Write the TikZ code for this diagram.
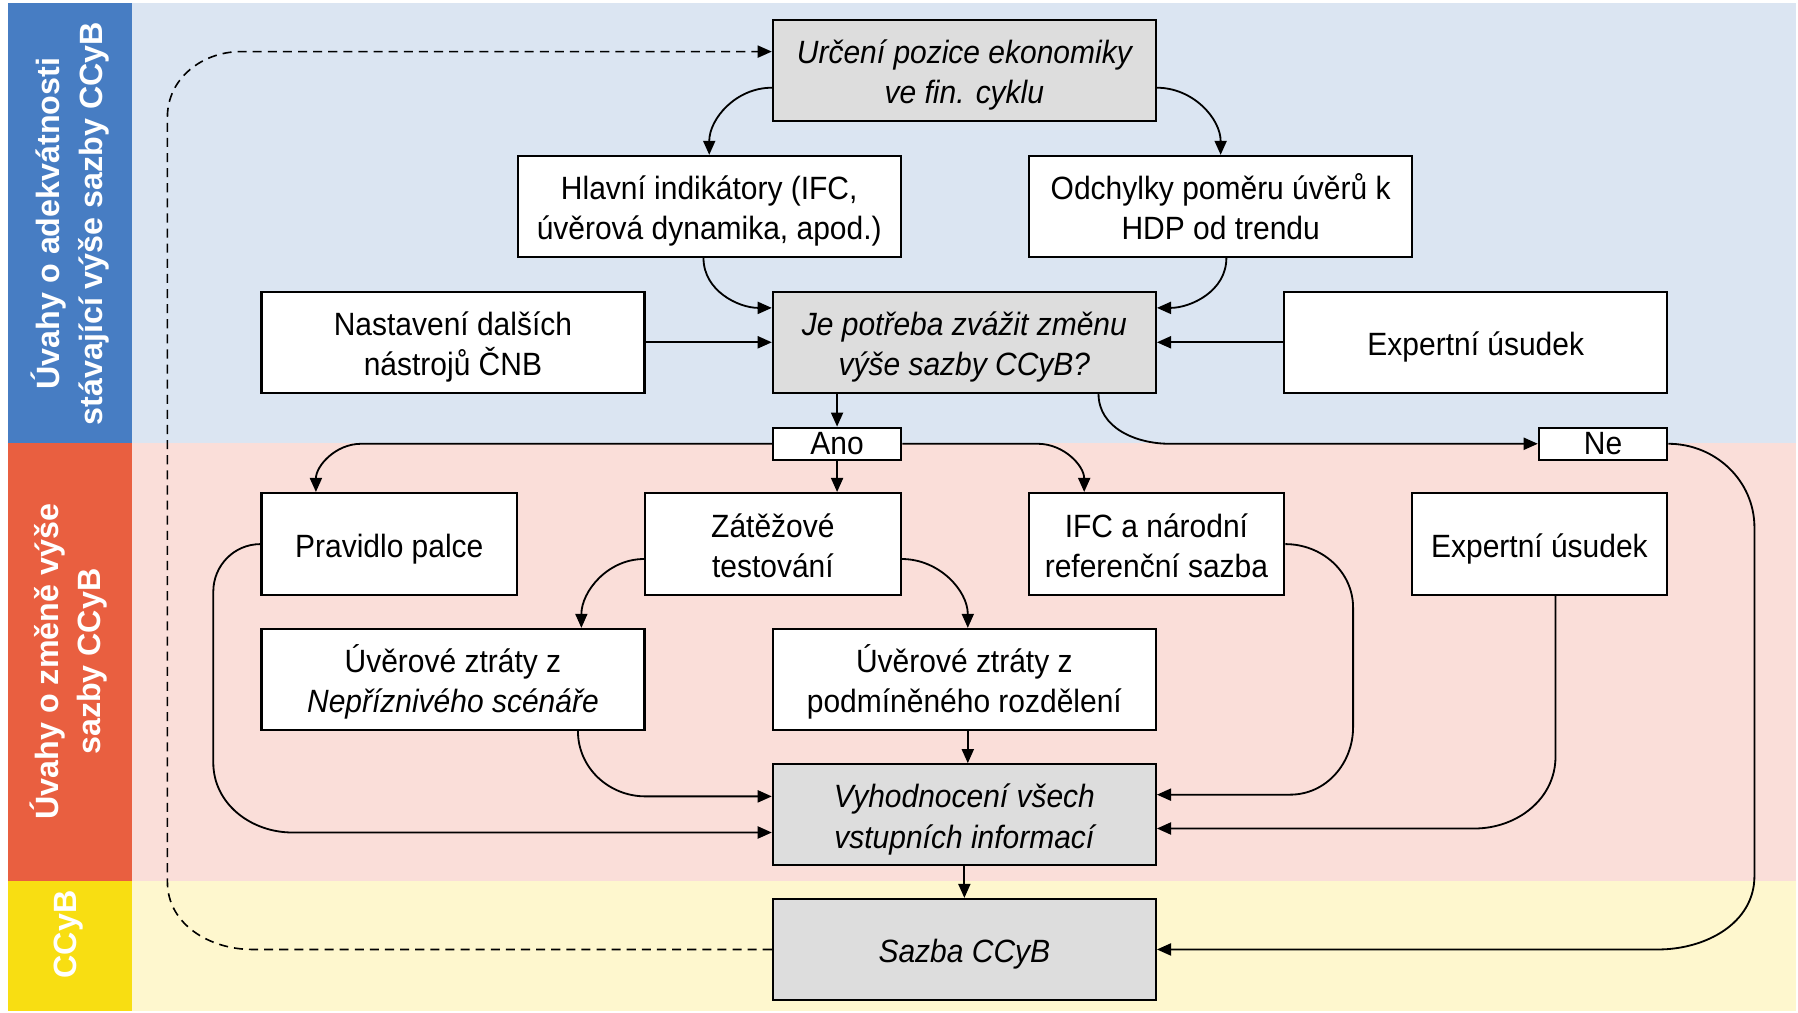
\documentclass[tikz,border=0pt]{standalone}
\usepackage{fontspec}
\setmainfont{Liberation Sans}[FakeStretch=0.93]
\newfontfamily\pasfont{Liberation Sans}
\usetikzlibrary{arrows.meta,calc}
\definecolor{pasmodra}{RGB}{71,125,195}
\definecolor{pascervena}{RGB}{233,95,64}
\definecolor{paszluta}{RGB}{248,222,18}
\definecolor{podmodra}{RGB}{219,229,242}
\definecolor{podcervena}{RGB}{250,222,217}
\definecolor{podzluta}{RGB}{254,247,206}
\definecolor{sedabox}{RGB}{221,221,221}

\begin{document}
\begin{tikzpicture}[x=0.02cm, y=-0.02cm,
	ram/.style={draw, line width=1.1pt, fill=white, inner sep=0pt, align=center, font=\fontsize{16}{20}\selectfont},
	krok/.style={ram, minimum width=6.68cm, minimum height=1.76cm,
		/utils/exec={\def\radek{39.9pt}}, execute at begin node={\rule[-3.4pt]{0pt}{\radek}}},
	jeden/.style={/utils/exec={\def\radek{19.9pt}}},
	maly/.style={krok, minimum width=4.46cm, minimum height=1.78cm},
	rozhod/.style={krok, fill=sedabox, font=\fontsize{16}{20}\selectfont\itshape},
	volba/.style={ram, minimum width=2.24cm, minimum height=0.56cm},
	pas/.style={rotate=90, text=white, align=center, font=\pasfont\bfseries\fontsize{16}{21}\selectfont},
	spoj/.style={line width=0.9pt, -{Triangle[length=7pt,width=6pt]}}]

	\useasboundingbox (0,0) rectangle (1568,883);

	% pozadi a pasy
	\fill[podmodra] (115,3) rectangle (1566,386);
	\fill[podcervena] (115,386) rectangle (1566,768);
	\fill[podzluta] (115,768) rectangle (1566,882);
	\fill[pasmodra] (7,3) rectangle (115,386);
	\fill[pascervena] (7,386) rectangle (115,768);
	\fill[paszluta] (7,768) rectangle (115,882);
	\node[pas] (pasA) at (61,195) {Úvahy o adekvátnosti\\stávající výše sazby CCyB};
	\node[pas] (pasB) at (60,577) {Úvahy o změně výše\\sazby CCyB};
	\node[pas] (pasC) at (60,815) {CCyB};

	\node[rozhod] (urceni) at (841,61.5) {Určení pozice ekonomiky\\ve fin. cyklu};
	\node[krok] (hlavni) at (618.5,180) {Hlavní indikátory (IFC,\\úvěrová dynamika, apod.)};
	\node[krok] (odchylky) at (1064.5,180) {Odchylky poměru úvěrů k\\HDP od trendu};
	\node[krok] (nastaveni) at (395,298.5) {Nastavení dalších\\nástrojů ČNB};
	\node[rozhod] (potreba) at (841,298.5) {Je potřeba zvážit změnu\\výše sazby CCyB?};
	\node[krok, jeden] (expertA) at (1287,298.5) {Expertní úsudek};
	\node[volba] (ano) at (730,387) {Ano};
	\node[volba] (ne) at (1398,387) {Ne};
	\node[maly, jeden] (pravidlo) at (339.5,474.5) {Pravidlo palce};
	\node[maly] (zatez) at (674,474.5) {Zátěžové\\testování};
	\node[maly] (ifc) at (1008.5,474.5) {IFC a národní\\referenční sazba};
	\node[maly, jeden] (expertB) at (1342.5,474.5) {Expertní úsudek};
	\node[krok] (ztratyN) at (395,592.5) {Úvěrové ztráty z\\\textit{Nepříznivého scénáře}};
	\node[krok] (ztratyP) at (841,592.5) {Úvěrové ztráty z\\podmíněného rozdělení};
	\node[rozhod] (vyhod) at (841,710.5) {Vyhodnocení všech\\vstupních informací};
	\node[rozhod, jeden] (sazba) at (841,828) {Sazba CCyB};

	% horni cast
	\draw[spoj] ($(urceni.west)+(0,15)$) to[out=180,in=90] (hlavni.north);
	\draw[spoj] ($(urceni.east)+(0,15)$) to[out=0,in=90] (odchylky.north);
	\draw[spoj] ($(hlavni.south)+(-5,0)$) to[out=-90,in=180] ($(potreba.west)+(0,-30)$);
	\draw[spoj] ($(odchylky.south)+(5,0)$) to[out=-90,in=0] ($(potreba.east)+(0,-30)$);
	\draw[spoj] (nastaveni.east) -- (potreba.west);
	\draw[spoj] (expertA.west) -- (potreba.east);
	\draw[spoj] (potreba.south -| ano.north) -- (ano.north);
	\draw[spoj] ($(potreba.south)+(117,0)$) to[out=-90,in=180] (1020,387) -- (ne.west);

	% Ano a Ne
	\draw[spoj] (ano.west) -- (315,387) to[out=180,in=90] ($(pravidlo.north)+(-64,0)$);
	\draw[spoj] (ano.east) -- (905,387) to[out=0,in=90] ($(ifc.north)+(-63,0)$);
	\draw[spoj] (ano.south) -- (ano.south |- zatez.north);
	\draw[spoj] (ne.east) to[out=0,in=90] (1530,460) -- (1530,764) to[out=-90,in=0] (1446,828) -- (sazba.east);

	% spodni cast
	\draw[spoj] (pravidlo.west) to[out=180,in=90] (186,516) -- (186,665) to[out=-90,in=180] (255,726) -- ($(vyhod.west)+(0,15.5)$);
	\draw[spoj] ($(zatez.west)+(0,13)$) to[out=180,in=90] ($(ztratyN.north)+(112,0)$);
	\draw[spoj] ($(zatez.east)+(0,13)$) to[out=0,in=90] ($(ztratyP.north)+(3,0)$);
	\draw[spoj] ($(ztratyN.south)+(109,0)$) to[out=-90,in=180] (563,694.5) -- ($(vyhod.west)+(0,-16)$);
	\draw[spoj] ($(ztratyP.south)+(3,0)$) -- ($(vyhod.north)+(3,0)$);
	\draw[spoj] (ifc.east) to[out=0,in=90] (1180,530) -- (1180,634) to[out=-90,in=0] (1125,693) -- ($(vyhod.east)+(0,-17.5)$);
	\draw[spoj] ($(expertB.south)+(14,0)$) -- (1356.5,660) to[out=-90,in=0] (1286,722.5) -- ($(vyhod.east)+(0,12)$);
	\draw[spoj] (vyhod.south) -- (sazba.north);

	% zpetna vazba
	\draw[spoj, line width=0.8pt, dash pattern=on 4.5pt off 3pt] (sazba.west) -- (220,828) to[out=180,in=-90] (146,769) -- (146,102) to[out=90,in=180] (210,45) -- ($(urceni.west)+(0,-16.5)$);

\end{tikzpicture}
\end{document}
